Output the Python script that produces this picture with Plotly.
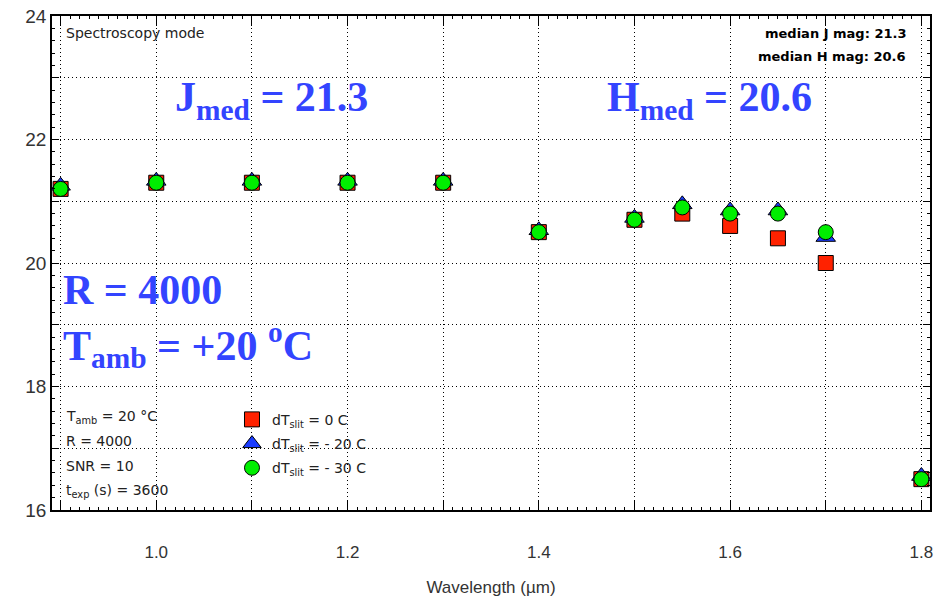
import plotly.graph_objects as go

wavelength = [0.9, 1.0, 1.1, 1.2, 1.3, 1.4, 1.5, 1.55, 1.6, 1.65, 1.7, 1.8]
mag_dT0 = [21.2, 21.3, 21.3, 21.3, 21.3, 20.5, 20.7, 20.8, 20.6, 20.4, 20.0, 16.5]
mag_dTm20 = [21.25, 21.33, 21.33, 21.33, 21.33, 20.53, 20.73, 20.95, 20.85, 20.85, 20.42, 16.55]
mag_dTm30 = [21.2, 21.3, 21.3, 21.3, 21.3, 20.5, 20.7, 20.9, 20.8, 20.8, 20.5, 16.5]

series_names = ["dT<sub>slit</sub> = 0 C", "dT<sub>slit</sub> = - 20 C", "dT<sub>slit</sub> = - 30 C"]

x_ticks = [0.9, 1.0, 1.1, 1.2, 1.3, 1.4, 1.5, 1.6, 1.7, 1.8]
x_ticktext = ["", "1.0", "", "1.2", "", "1.4", "", "1.6", "", "1.8"]
y_ticks = [16, 17, 18, 19, 20, 21, 22, 23, 24]
y_ticktext = ["16", "", "18", "", "20", "", "22", "", "24"]

BLUE_TXT = "#3344ff"

fig = go.Figure()
fig.add_trace(go.Scatter(x=wavelength, y=mag_dT0, mode="markers", name=series_names[0],
                         legendgroup="a",
                         marker=dict(symbol="square", size=15, color="#ff2200",
                                     line=dict(color="black", width=1))))
fig.add_trace(go.Scatter(x=wavelength, y=mag_dTm20, mode="markers", name=series_names[1],
                         legendgroup="b",
                         marker=dict(symbol="triangle-up", size=17, color="#1a3cff",
                                     line=dict(color="black", width=1))))
fig.add_trace(go.Scatter(x=wavelength, y=mag_dTm30, mode="markers", name=series_names[2],
                         legendgroup="c",
                         marker=dict(symbol="circle", size=15, color="#00ee00",
                                     line=dict(color="black", width=1))))

axis_font = dict(family="Liberation Sans Narrow, Liberation Sans, Arial", size=17, color="#333333")
GRID_DASH = "1px,3px"

fig.update_layout(
    width=938, height=599,
    margin=dict(l=52, r=8, t=16, b=89),
    plot_bgcolor="white", paper_bgcolor="white",
    showlegend=True,
    legend=dict(x=0.205, y=0.215, xanchor="left", yanchor="top",
                bgcolor="rgba(0,0,0,0)", borderwidth=0,
                font=dict(family="DejaVu Sans, Arial", size=14, color="#222222"),
                tracegroupgap=3, itemwidth=30),
    xaxis=dict(range=[0.891, 1.809], tickvals=x_ticks, ticktext=x_ticktext,
               showgrid=True, gridcolor="black", griddash=GRID_DASH, gridwidth=1,
               showline=True, linecolor="black", linewidth=1.5, mirror="allticks",
               ticks="inside", ticklen=10, tickcolor="black", tickwidth=1,
               minor=dict(dtick=0.01, tick0=0.9, ticks="inside", ticklen=3, tickcolor="black", showgrid=False),
               tickfont=axis_font, zeroline=False, ticklabelstandoff=26, automargin=False,
               title=dict(text="Wavelength (µm)", font=axis_font, standoff=20)),
    yaxis=dict(range=[16, 24], tickvals=y_ticks, ticktext=y_ticktext,
               showgrid=True, gridcolor="black", griddash=GRID_DASH, gridwidth=1,
               showline=True, linecolor="black", linewidth=1.5, mirror="allticks",
               ticks="inside", ticklen=7, tickcolor="black", tickwidth=1,
               minor=dict(dtick=0.2, tick0=16, ticks="inside", ticklen=3, tickcolor="black", showgrid=False),
               tickfont=dict(family="Liberation Sans Narrow, Liberation Sans, Arial", size=19, color="#333333"),
               zeroline=False, automargin=False),
)

small = dict(family="DejaVu Sans, Arial", size=14, color="#222222")
bold_small = dict(family="DejaVu Sans, Arial", size=13, color="black")
anns = [
    dict(x=0.0137, y=0.965, text="Spectroscopy mode", xanchor="left", yanchor="middle", font=small),
    dict(x=0.975, y=0.965, text="<b>median J mag: 21.3</b>", xanchor="right", yanchor="middle", font=bold_small),
    dict(x=0.975, y=0.918, text="<b>median H mag: 20.6</b>", xanchor="right", yanchor="middle", font=bold_small),
    dict(x=0.0137, y=0.188, text="T<sub>amb</sub> = 20 °C", xanchor="left", yanchor="middle", font=small),
    dict(x=0.0137, y=0.140, text="R = 4000", xanchor="left", yanchor="middle", font=small),
    dict(x=0.0137, y=0.089, text="SNR = 10", xanchor="left", yanchor="middle", font=small),
    dict(x=0.0137, y=0.038, text="t<sub>exp</sub> (s) = 3600", xanchor="left", yanchor="middle", font=small),
]
big = dict(family="Liberation Serif, Times New Roman, serif", size=42, color=BLUE_TXT)
anns += [
    dict(x=0.138, y=0.83, text="<b>J<sub>med</sub> = 21.3</b>", xanchor="left", yanchor="middle", font=big),
    dict(x=0.63, y=0.83, text="<b>H<sub>med</sub> = 20.6</b>", xanchor="left", yanchor="middle", font=big),
    dict(x=0.010, y=0.445, text="<b>R = 4000</b>", xanchor="left", yanchor="middle", font=big),
    dict(x=0.010, y=0.335, text="<b>T<sub>amb</sub> = +20 <sup>o</sup>C</b>", xanchor="left", yanchor="middle", font=big),
]
for a in anns:
    a.update(xref="paper", yref="paper", showarrow=False)
fig.update_layout(annotations=anns)

fig.write_html("out.html")
